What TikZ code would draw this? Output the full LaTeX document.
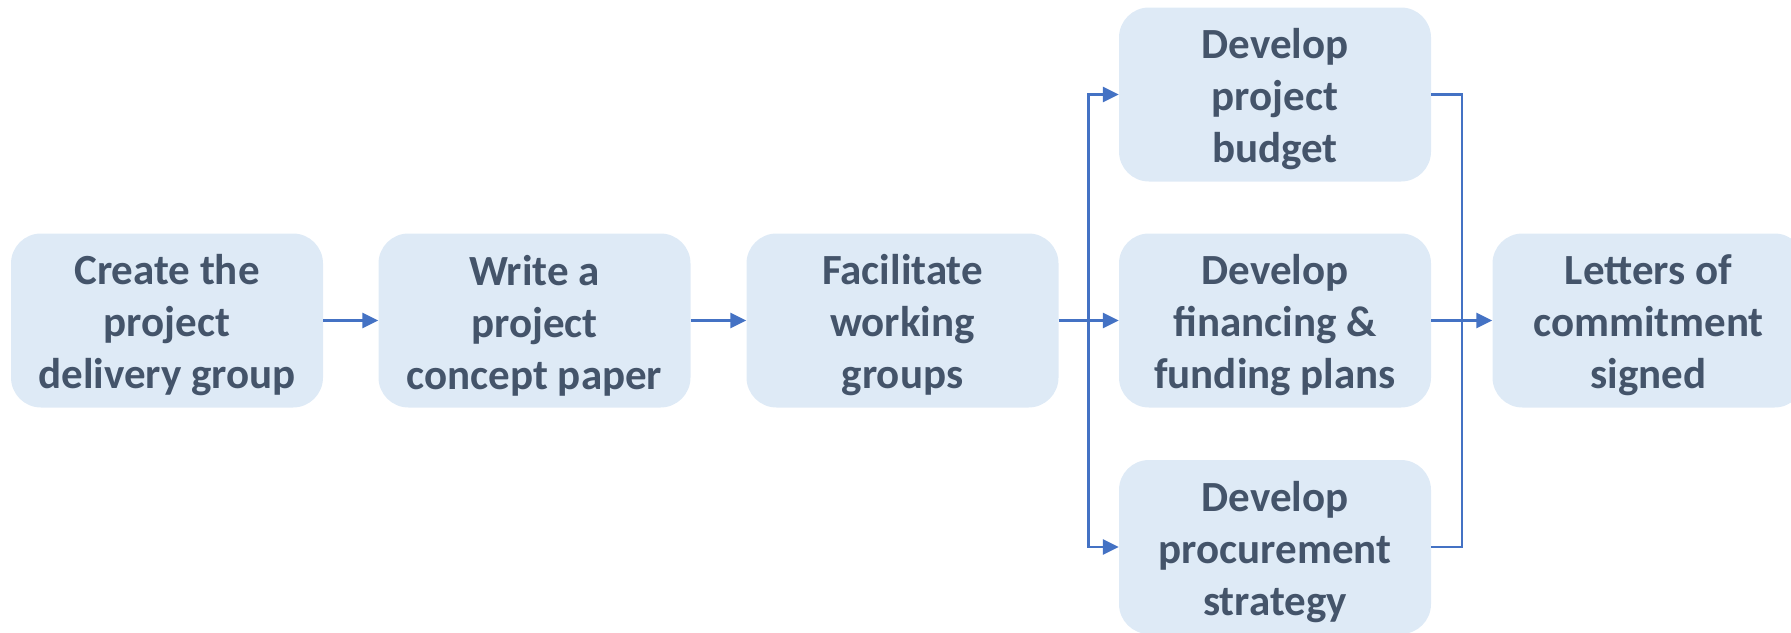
\documentclass[tikz,border=0pt]{standalone}
\usepackage{fontspec}
\setmainfont{Carlito}
\usetikzlibrary{arrows.meta}
\definecolor{boxfill}{RGB}{222,234,246}
\definecolor{boxtext}{RGB}{68,84,106}
\definecolor{linkblue}{RGB}{68,114,196}
\begin{document}
\begin{tikzpicture}[x=1pt,y=-1pt,
  stepbox/.style={rectangle, rounded corners=30pt, fill=boxfill, draw=none,
    minimum width=312pt, minimum height=174pt, inner sep=0pt,
    label={[steptext]center:#1}},
  steptext/.style={align=center, text=boxtext, inner sep=0pt, yshift=-5pt,
    font=\fontsize{43}{52}\selectfont\bfseries},
  link/.style={draw=linkblue, line width=2.6pt},
  arr/.style={link, -{Triangle[length=16pt,width=15pt]}}]
\useasboundingbox (0,0) rectangle (1791,632);
\node[stepbox={Create the\\project\\delivery group}] (b1) at (167,320.5) {};
\node[stepbox={Write a\\project\\concept paper}] (b2) at (534.5,320.5) {};
\node[stepbox={Facilitate\\working\\groups}] (b3) at (902.5,320.5) {};
\node[stepbox={Develop\\project\\budget}] (b4) at (1275,94.5) {};
\node[stepbox={Develop\\financing \&\\funding plans}] (b5) at (1275,320.5) {};
\node[stepbox={Develop\\procurement\\strategy}] (b6) at (1275,547) {};
\node[stepbox={Letters of\\commitment\\signed}] (b7) at (1648.5,320.5) {};
\coordinate (j1) at (1088.5,320.5);
\coordinate (j2) at (1462,320.5);
\draw[arr] (b1.east) -- (b2.west);
\draw[arr] (b2.east) -- (b3.west);
\draw[arr] (b3.east) -- (b5.west);
\draw[arr] (j1) |- (b4.west);
\draw[arr] (j1) |- (b6.west);
\draw[link] (b4.east) -| (j2);
\draw[link] (b6.east) -| (j2);
\draw[arr] (b5.east) -- (b7.west);
\end{tikzpicture}
\end{document}
